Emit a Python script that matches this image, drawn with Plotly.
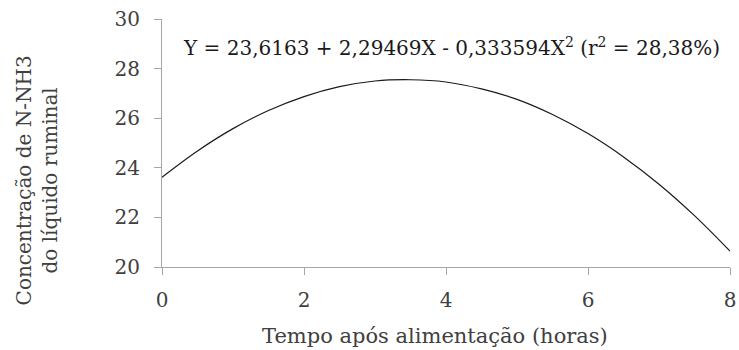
import plotly.graph_objects as go

tempo = [0, 0.5, 1, 1.5, 2, 2.5, 3, 3.5, 4, 4.5, 5, 5.5, 6, 6.5, 7, 7.5, 8]
concentracao = [23.62, 24.68, 25.58, 26.31, 26.87, 27.27, 27.50, 27.55, 27.46,
                27.18, 26.76, 26.15, 25.38, 24.44, 23.34, 22.07, 20.64]
x_ticks = [0, 2, 4, 6, 8]
y_ticks = [20, 22, 24, 26, 28, 30]

FONT = "DejaVu Serif"
AXIS_COLOR = "#a6a6a6"
TEXT_COLOR = "#404040"

fig = go.Figure()
fig.add_trace(go.Scatter(
    x=tempo, y=concentracao, mode="lines",
    line=dict(color="#1a1a1a", width=1.2, shape="spline"),
    showlegend=False, hoverinfo="skip",
))

fig.update_layout(
    width=739, height=350,
    margin=dict(l=162, r=9, t=19, b=83),
    paper_bgcolor="white", plot_bgcolor="white",
    font=dict(family=FONT, size=20, color=TEXT_COLOR),
    xaxis=dict(
        range=[0, 8], tickvals=x_ticks, ticks="outside", ticklen=7,
        tickcolor=AXIS_COLOR, showline=True, linecolor=AXIS_COLOR, linewidth=1,
        showgrid=False, zeroline=False, automargin=False,
        ticklabeloverflow="allow", ticklabelstandoff=8,
        tickfont=dict(family=FONT, size=20, color=TEXT_COLOR),
    ),
    yaxis=dict(
        range=[20, 30], tickvals=y_ticks, ticks="outside", ticklen=7,
        tickcolor=AXIS_COLOR, showline=True, linecolor=AXIS_COLOR, linewidth=1,
        showgrid=False, zeroline=False, automargin=False,
        ticklabeloverflow="allow", ticklabelstandoff=10,
        tickfont=dict(family=FONT, size=20, color=TEXT_COLOR),
    ),
    annotations=[
        dict(
            text="Y = 23,6163 + 2,29469X - 0,333594X<sup>2</sup> (r<sup>2</sup> = 28,38%)",
            xref="paper", yref="paper", x=0.986, y=0.887, xanchor="right", yanchor="middle",
            showarrow=False, font=dict(family=FONT, size=20, color="#1a1a1a"),
        ),
        dict(
            text="Tempo após alimentação (horas)",
            xref="paper", yref="paper", x=0.481, y=-0.278, xanchor="center", yanchor="middle",
            showarrow=False, font=dict(family=FONT, size=21, color=TEXT_COLOR),
        ),
        dict(
            text="Concentração de N-NH3<br>do líquido ruminal",
            xref="paper", yref="paper", x=-0.221, y=0.351, xanchor="center", yanchor="middle",
            textangle=-90, showarrow=False,
            font=dict(family=FONT, size=20, color=TEXT_COLOR),
        ),
    ],
)

fig.write_html(
    "out.html",
    config={"displayModeBar": False},
    post_script="document.body.style.margin='0';document.body.style.overflow='hidden';",
)
